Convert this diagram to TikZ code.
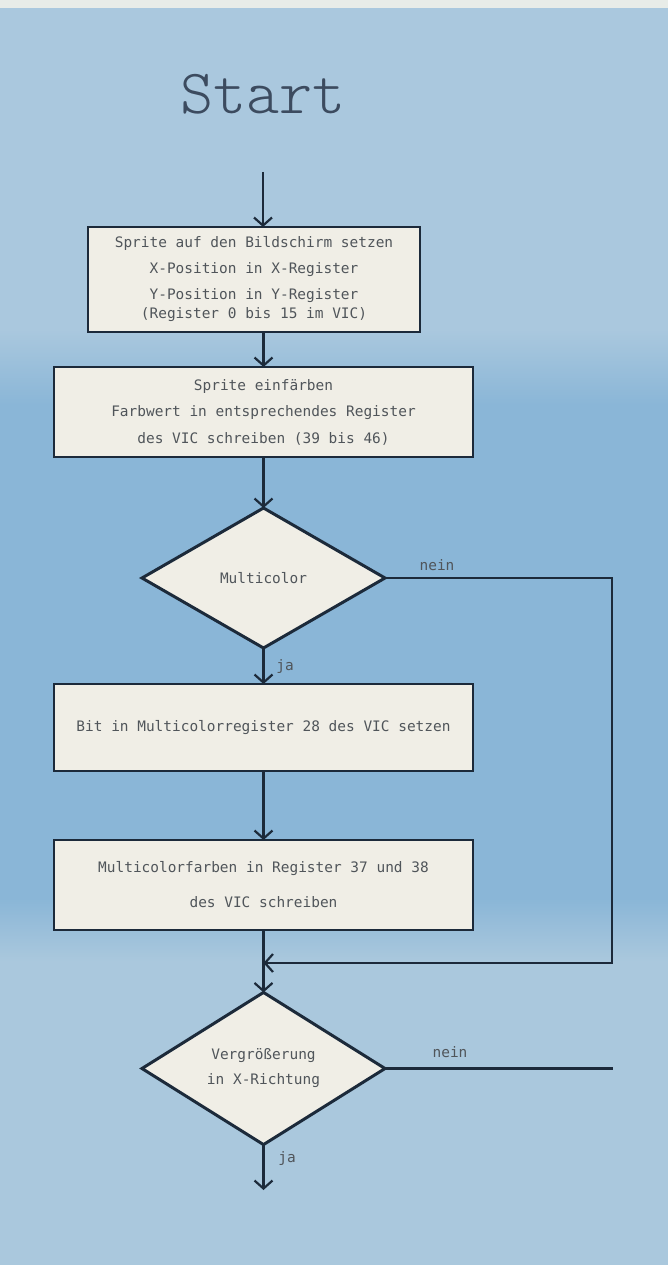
\documentclass[tikz,border=0pt]{standalone}
\usepackage{fontspec}
\newfontfamily\plotfont{DejaVu Sans Mono}
\usetikzlibrary{shapes.geometric,arrows.meta}
\definecolor{bgtop}{RGB}{170,200,222}
\definecolor{bgmid}{RGB}{138,182,215}
\definecolor{bgbot}{RGB}{170,200,221}
\definecolor{stripcol}{RGB}{232,236,232}
\definecolor{paper}{RGB}{240,238,230}
\definecolor{ink}{RGB}{28,42,58}
\definecolor{txt}{RGB}{80,85,90}
\definecolor{startcol}{RGB}{60,75,95}
\pgfdeclareverticalshading{bgshade}{100bp}{color(0bp)=(bgbot); color(37bp)=(bgbot); color(39.5bp)=(bgmid); color(59bp)=(bgmid); color(62bp)=(bgtop); color(100bp)=(bgtop)}
\begin{document}
\begin{tikzpicture}[x=1pt,y=-1pt,
  every node/.style={inner sep=0pt, outer sep=0pt},
  boxtext/.style={font=\fontsize{14.45}{20}\plotfont, text=txt},
  procbox/.style={rectangle, draw=ink, line width=2.6pt, fill=paper, align=center, boxtext},
  decide/.style={diamond, draw=ink, line width=3pt, fill=paper, align=center, boxtext},
  starttext/.style={font=\fontsize{63}{63}\ttfamily\fontseries{l}\selectfont, text=startcol},
  lbl/.style={boxtext},
  conn/.style={draw=ink, line width=2.2pt},
  arr/.style={-{Straight Barb[length=8pt,width=18pt]}}]
\useasboundingbox (0,0) rectangle (668,1265);
\shade[shading=bgshade] (0,0) rectangle (668,1265);
\fill[stripcol] (0,0) rectangle (668,8);

\node[starttext] (start) at (263,94) {Start};

\node[procbox, minimum width=332pt, minimum height=105pt] (b1) at (254,279.5)
  {Sprite auf den Bildschirm setzen\\[6pt] X-Position in X-Register\\[6pt] Y-Position in Y-Register\\[-1pt] (Register 0 bis 15 im VIC)};
\node[procbox, minimum width=419pt, minimum height=90pt] (b2) at (263.5,412)
  {Sprite einfärben\\[6.5pt] Farbwert in entsprechendes Register\\[6.5pt] des VIC schreiben (39 bis 46)};
\node[decide, minimum width=243pt, minimum height=140pt] (d1) at (263.5,578) {Multicolor};
\node[procbox, minimum width=419pt, minimum height=87pt] (b3) at (263.5,727.5)
  {Bit in Multicolorregister 28 des VIC setzen};
\node[procbox, minimum width=419pt, minimum height=90pt] (b4) at (263.5,885)
  {Multicolorfarben in Register 37 und 38\\[15pt] des VIC schreiben};
\node[decide, minimum width=243pt, minimum height=137pt] (d2) at (263.5,1068.5)
  {Vergrößerung\\[5pt] in X-Richtung};

\node[lbl] (l1) at (437,565) {nein};
\node[lbl] (l2) at (285,667) {ja};
\node[lbl] (l3) at (450,1052) {nein};
\node[lbl] (l4) at (287,1158) {ja};

\coordinate (s0) at (263,172);
\coordinate (m) at (263.5,963);
\coordinate (r) at (612,963);
\coordinate (e2) at (613,1068.5);
\coordinate (fin) at (263.5,1190);

\draw[conn,arr] (s0) -- (s0 |- b1.north);
\draw[conn,arr] (b2.north |- b1.south) -- (b2.north);
\draw[conn,arr] (b2.south) -- (d1.north);
\draw[conn,arr] (d1.south) -- (b3.north);
\draw[conn,arr] (b3.south) -- (b4.north);
\draw[conn,arr] (b4.south) -- (d2.north);
\draw[conn,arr] (d1.east) -| (r) -- (m);
\draw[conn] (d2.east) -- (e2);
\draw[conn,arr] (d2.south) -- (fin);
\end{tikzpicture}
\end{document}
